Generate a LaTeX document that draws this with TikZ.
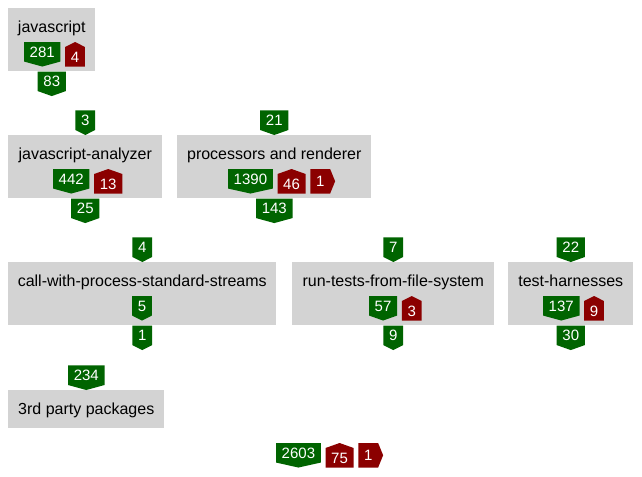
\documentclass[tikz,border=0pt]{standalone}
\usepackage{fontspec}
\setmainfont{Liberation Sans}
\usetikzlibrary{positioning}
\definecolor{PkgGray}{HTML}{D3D3D3}
\definecolor{DepGreen}{HTML}{006400}
\definecolor{CycRed}{HTML}{8B0000}
\tikzset{
  pkg/.style={fill=PkgGray, anchor=north west, inner sep=0pt,
    text height=18pt, font=\fontsize{12}{14}\selectfont},
  badges/.style={pkg, text depth=29.25pt},
  plain/.style={pkg, text depth=10.5pt},
  num/.style={text=white, inner xsep=4.1pt, inner ysep=0pt, text height=8.25pt,
    text depth=0pt, font=\fontsize{11.25}{13}\selectfont},
  down/.style={num, minimum height=14.25pt, append after command={\pgfextra{
    \begin{pgfinterruptpath}
      \fill[DepGreen] (\tikzlastnode.north west) -- (\tikzlastnode.north east)
        -- (\tikzlastnode.south east) -- ([yshift=-3.75pt]\tikzlastnode.south)
        -- (\tikzlastnode.south west) -- cycle;
    \end{pgfinterruptpath}}}},
  up/.style={num, minimum height=14.25pt, append after command={\pgfextra{
    \begin{pgfinterruptpath}
      \fill[CycRed] (\tikzlastnode.south west) -- (\tikzlastnode.north west)
        -- ([yshift=3.75pt]\tikzlastnode.north) -- (\tikzlastnode.north east)
        -- (\tikzlastnode.south east) -- cycle;
    \end{pgfinterruptpath}}}},
  fwd/.style={num, minimum height=18pt, append after command={\pgfextra{
    \begin{pgfinterruptpath}
      \fill[CycRed] (\tikzlastnode.south west) -- (\tikzlastnode.north west)
        -- (\tikzlastnode.north east) -- ([xshift=3.75pt]\tikzlastnode.east)
        -- (\tikzlastnode.south east) -- cycle;
    \end{pgfinterruptpath}}}}
}
\begin{document}
\begin{tikzpicture}[x=0.75pt, y=-0.75pt]
  \useasboundingbox[fill=white] (0,0) rectangle (642,476);
  % first row
  \node[badges, minimum width=65.25pt] (js) at (8,8) {javascript};
  \node[down, anchor=north west] (jsOwn) at (24,42) {281};
  \node[up, right=3.5pt of jsOwn, yshift=-3.75pt] (jsCyc) {4};
  \node[down, below=0pt of js] (jsOut) {83};
  % second row
  \node[badges, minimum width=115.5pt] (jsa) at (8,135) {javascript-analyzer};
  \node[down, above=3.75pt of jsa] (jsaIn) {3};
  \node[down, anchor=north west] (jsaOwn) at (53,169) {442};
  \node[up, right=3.5pt of jsaOwn, yshift=-3.75pt] (jsaCyc) {13};
  \node[down, below=0pt of jsa] (jsaOut) {25};
  \node[badges, minimum width=145.5pt] (proc) at (177,135) {processors and renderer};
  \node[down, above=3.75pt of proc] (procIn) {21};
  \node[down, anchor=north west] (procOwn) at (228,169) {1390};
  \node[up, right=3.5pt of procOwn, yshift=-3.75pt] (procCyc) {46};
  \node[fwd, right=3.5pt of procCyc, yshift=1.875pt] (procFwd) {1};
  \node[down, below=0pt of proc] (procOut) {143};
  % third row
  \node[badges, minimum width=201pt] (cwp) at (8,262) {call-with-process-standard-streams};
  \node[down, above=3.75pt of cwp] (cwpIn) {4};
  \node[down, anchor=north] (cwpOwn) at (142,296) {5};
  \node[down, below=0pt of cwp] (cwpOut) {1};
  \node[badges, minimum width=151.5pt] (rtf) at (292,262) {run-tests-from-file-system};
  \node[down, above=3.75pt of rtf] (rtfIn) {7};
  \node[down, anchor=north west] (rtfOwn) at (369,296) {57};
  \node[up, right=3.5pt of rtfOwn, yshift=-3.75pt] (rtfCyc) {3};
  \node[down, below=0pt of rtf] (rtfOut) {9};
  \node[badges, minimum width=93.75pt] (th) at (508,262) {test-harnesses};
  \node[down, above=3.75pt of th] (thIn) {22};
  \node[down, anchor=north west] (thOwn) at (543,296) {137};
  \node[up, right=3.5pt of thOwn, yshift=-3.75pt] (thCyc) {9};
  \node[down, below=0pt of th] (thOut) {30};
  % external packages
  \node[plain, minimum width=117pt] (ext) at (8,390) {3rd party packages};
  \node[down, above=3.75pt of ext] (extIn) {234};
  % totals
  \node[down, anchor=north west] (tot) at (276,443) {2603};
  \node[up, right=3.5pt of tot, yshift=-3.75pt] (totCyc) {75};
  \node[fwd, right=3.5pt of totCyc, yshift=1.875pt] (totFwd) {1};
\end{tikzpicture}
\end{document}
